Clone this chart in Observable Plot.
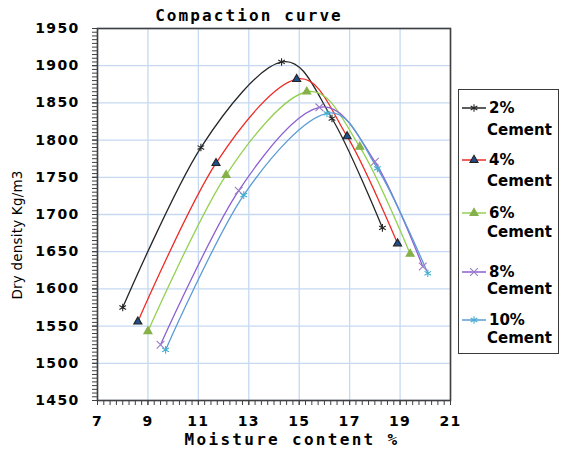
<!DOCTYPE html>
<html>
<head>
<meta charset="utf-8">
<script src="https://cdn.jsdelivr.net/npm/d3@7"></script>
<script src="https://cdn.jsdelivr.net/npm/@observablehq/plot@0.6"></script>
<style>
  body { margin: 0; background: #fff; }
  #wrap { position: relative; width: 563px; height: 452px; overflow: hidden; }
  #chart svg { position: absolute; left: 0; top: 0; }
  .tl text { letter-spacing: 1.3px; }
  #title { position: absolute; left: 0; width: 498px; top: 6px; text-align: center;
    font: bold 16px "DejaVu Sans Mono"; letter-spacing: 2.1px; color: #000; }
  #xlabel { position: absolute; left: 90px; width: 404px; top: 430px; text-align: center;
    font: bold 16px "DejaVu Sans Mono"; letter-spacing: 2.3px; color: #000; }
  #ylabel { position: absolute; left: 17px; top: 235px; transform: translate(-50%,-50%) rotate(-90deg);
    white-space: nowrap; font: 13.5px "DejaVu Sans"; letter-spacing: 0.2px; color: #000; }
  #legend { position: absolute; left: 458px; top: 89px; width: 101px; height: 265px;
    border: 1.5px solid #3a3a3a; box-sizing: border-box; }
</style>
</head>
<body>
<div id="wrap">
  <div id="chart"></div>
  <div id="title">Compaction curve</div>
  <div id="xlabel">Moisture content %</div>
  <div id="ylabel">Dry density Kg/m3</div>
  <div id="legend"></div>
</div>
<script>
// ---- data ----
const seriesNames = ["2% Cement", "4% Cement", "6% Cement", "8% Cement", "10% Cement"];
const moisture2  = [8.0, 11.1, 14.3, 16.3, 18.3];
const density2   = [1575, 1790, 1905, 1829, 1682];
const moisture4  = [8.6, 11.7, 14.9, 16.9, 18.9];
const density4   = [1556, 1769, 1882, 1805, 1661];
const moisture6  = [9.0, 12.1, 15.3, 17.4, 19.4];
const density6   = [1543, 1753, 1865, 1791, 1647];
const moisture8  = [9.5, 12.6, 15.8, 18.0, 19.9];
const density8   = [1525, 1732, 1844, 1771, 1630];
const moisture10 = [9.7, 12.8, 16.1, 18.1, 20.1];
const density10  = [1518, 1726, 1836, 1762, 1621];
const xTicks = [7, 9, 11, 13, 15, 17, 19, 21];
const yTicks = [1450, 1500, 1550, 1600, 1650, 1700, 1750, 1800, 1850, 1900, 1950];

// ---- styles ----
const styles = [
  {line: "#262626", symbol: "asterisk", mfill: "none", mstroke: "#262626", r: 3.6},
  {line: "#ee2b24", symbol: "triangle", mfill: "#1f4e8c", mstroke: "#222", r: 3},
  {line: "#92d050", symbol: "triangle", mfill: "#86b04a", mstroke: "#86b04a", r: 3},
  {line: "#8c5fd0", symbol: "times",    mfill: "none", mstroke: "#9a7cc8", r: 3.6},
  {line: "#5b9bd5", symbol: "asterisk", mfill: "none", mstroke: "#3fb0d0", r: 3.6}
];

const xs = [moisture2, moisture4, moisture6, moisture8, moisture10];
const ys = [density2, density4, density6, density8, density10];
const series = seriesNames.map((name, i) => xs[i].map((m, j) => ({series: name, moisture: m, density: ys[i][j]})));

const lineMarks = series.map((d, i) => Plot.line(d, {x: "moisture", y: "density", stroke: styles[i].line, strokeWidth: 1.3, curve: "cardinal"}));
const dotMarks = series.map((d, i) => Plot.dot(d, {x: "moisture", y: "density", symbol: () => styles[i].symbol, r: styles[i].r,
  fill: styles[i].mfill, stroke: styles[i].mstroke, strokeWidth: 1.1}));

const plot = Plot.plot({
  width: 563, height: 452,
  marginLeft: 97, marginRight: 113, marginTop: 28, marginBottom: 52,
  x: {domain: [7, 21]},
  y: {domain: [1450, 1950]},
  symbol: {type: "identity"},
  style: {background: "transparent", color: "#000"},
  marks: [
    Plot.gridX(xTicks, {stroke: "#c6d9f1", strokeOpacity: 1, strokeWidth: 1.3}),
    Plot.gridY(yTicks, {stroke: "#c6d9f1", strokeOpacity: 1, strokeWidth: 1.3}),
    Plot.axisX(d3.range(7, 21.001, 0.25), {tickSize: 5, stroke: "#404040", text: null, label: null}),
    Plot.axisY(d3.range(1450, 1950.001, 5), {tickSize: 5, stroke: "#404040", text: null, label: null}),
    Plot.axisX(xTicks, {tickSize: 5, tickPadding: 11, stroke: "#404040", fontSize: 14, fontWeight: "bold", fontFamily: "DejaVu Sans", label: null, className: "tl", tickFormat: d3.format("d")}),
    Plot.axisY(yTicks, {tickSize: 5, tickPadding: 13, stroke: "#404040", fontSize: 14, fontWeight: "bold", fontFamily: "DejaVu Sans", label: null, className: "tl", tickFormat: d3.format("d")}),
    ...lineMarks,
    ...dotMarks,
    Plot.frame({stroke: "#404040", strokeWidth: 1.6})
  ]
});
document.getElementById("chart").appendChild(plot);

// ---- legend ----
const legendY = [[18, 40], [70, 91], [123, 142], [182, 199], [230, 248]];
const lg = d3.select("#legend").append("svg").attr("width", 99).attr("height", 262).style("position", "absolute").style("left", 0).style("top", 0);
const symMap = {asterisk: d3.symbolAsterisk, triangle: d3.symbolTriangle, times: d3.symbolTimes};
seriesNames.forEach((name, i) => {
  const s = styles[i];
  const [y1, y2] = legendY[i];
  lg.append("line").attr("x1", 3).attr("x2", 27).attr("y1", y1).attr("y2", y1).attr("stroke", s.line).attr("stroke-width", 1.5);
  lg.append("path").attr("transform", `translate(15,${y1})`)
    .attr("d", d3.symbol(symMap[s.symbol], s.r * s.r * Math.PI)())
    .attr("fill", s.mfill).attr("stroke", s.mstroke).attr("stroke-width", 1.1);
  const parts = name.split(" ");
  lg.append("text").attr("x", 30).attr("y", y1).attr("dy", "0.36em").text(parts[0])
    .attr("font-family", "DejaVu Sans").attr("font-weight", "bold").attr("font-size", 15);
  lg.append("text").attr("x", 28).attr("y", y2).attr("dy", "0.36em").text(parts[1])
    .attr("font-family", "DejaVu Sans").attr("font-weight", "bold").attr("font-size", 15);
});
</script>
</body>
</html>
